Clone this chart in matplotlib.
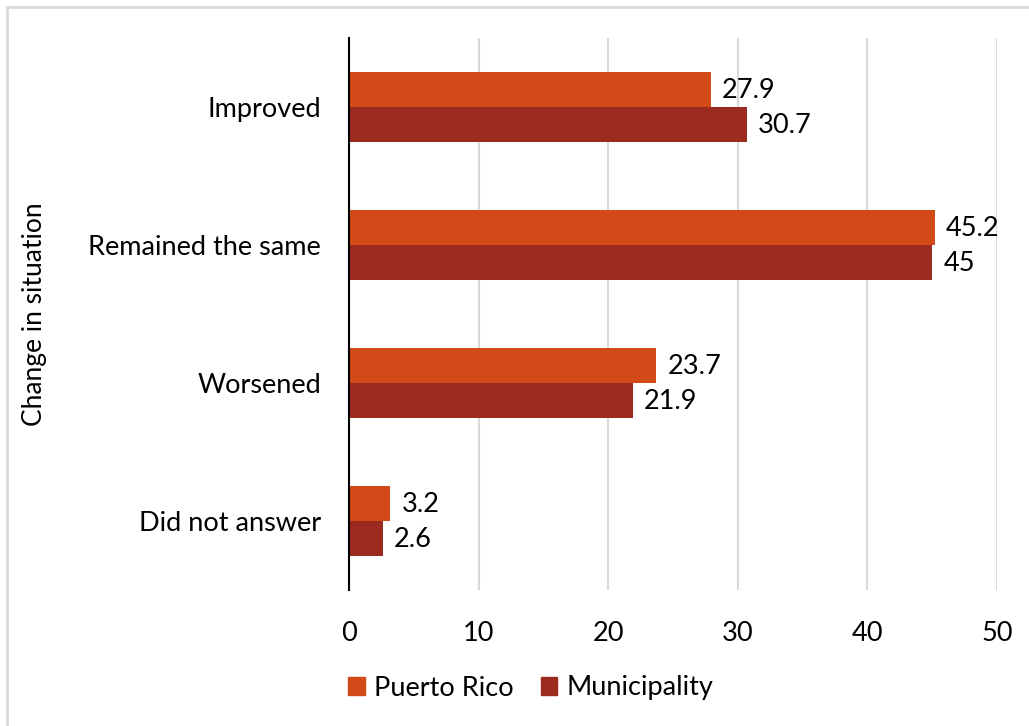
import matplotlib
matplotlib.use("Agg")
import matplotlib.pyplot as plt
import numpy as np
from matplotlib.patches import Rectangle, Patch

categories = ["Improved", "Remained the same", "Worsened", "Did not answer"]
puerto_rico = [27.9, 45.2, 23.7, 3.2]
municipality = [30.7, 45.0, 21.9, 2.6]
pr_labels = ["27.9", "45.2", "23.7", "3.2"]
mu_labels = ["30.7", "45", "21.9", "2.6"]
series_names = ["Puerto Rico", "Municipality"]
xticks = [0, 10, 20, 30, 40, 50]

c_pr = "#D14A18"
c_mu = "#9C2B1F"

plt.rcParams['font.family'] = ['Lato', 'DejaVu Sans']
fs = 19.5

W, H = 1029, 726
fig = plt.figure(figsize=(W/100, H/100), dpi=100)
ax = fig.add_axes([349/W, 1-590/H, (997-349)/W, (590-38)/H])

y = np.arange(len(categories))
h = 0.255
ax.barh(y - h/2, puerto_rico, height=h, color=c_pr, label=series_names[0], zorder=3)
ax.barh(y + h/2, municipality, height=h, color=c_mu, label=series_names[1], zorder=3)

for yi, v, lab in zip(y, puerto_rico, pr_labels):
    ax.annotate(lab, (v, yi - h/2), xytext=(8, -1), textcoords='offset points',
                va='center', ha='left', fontsize=fs, color='#000000')
for yi, v, lab in zip(y, municipality, mu_labels):
    ax.annotate(lab, (v, yi + h/2), xytext=(8, -1), textcoords='offset points',
                va='center', ha='left', fontsize=fs, color='#000000')

ax.set_xlim(0, 50)
ax.set_ylim(3.5, -0.5)
ax.set_yticks(y)
ax.set_yticklabels(categories, fontsize=fs)
ax.set_xticks(xticks)
ax.set_xticklabels([str(t) for t in xticks], fontsize=fs)
ax.tick_params(axis='y', length=0, pad=20)
ax.tick_params(axis='x', length=0, pad=22)
ax.grid(axis='x', color='#D9D9D9', linewidth=1.5, zorder=0)
for s in ['top', 'right', 'bottom']:
    ax.spines[s].set_visible(False)
ax.spines['left'].set_color('black')
ax.spines['left'].set_linewidth(1.5)
ax.spines['left'].set_zorder(4)
ax.set_ylabel("Change in situation", fontsize=fs - 0.5)
ax.yaxis.set_label_coords(-(349-47)/(997-349), 0.5)

handles = [Patch(color=c_pr), Patch(color=c_mu)]
fig.legend(handles, series_names, loc='center', bbox_to_anchor=(531/W, 1-688/H),
           ncol=2, frameon=False, fontsize=fs, handlelength=0.6, handleheight=0.6,
           handletextpad=0.35, columnspacing=1.0)

fig.patches.append(Rectangle((7/W, -0.1), 1.2, 1 - 7/H + 0.1, transform=fig.transFigure,
                             fill=False, edgecolor='#D9D9D9', linewidth=2))

fig.savefig("out.png", dpi=100)
